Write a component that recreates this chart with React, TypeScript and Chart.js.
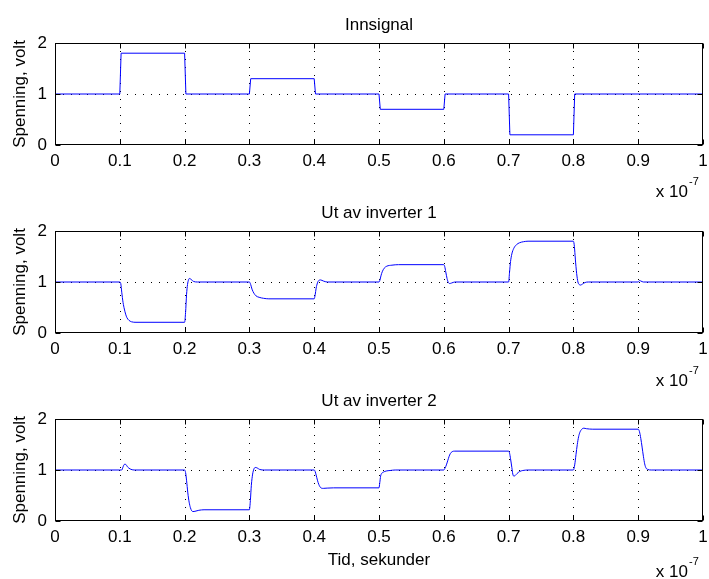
import React, { useEffect, useRef } from "react";
import { Chart, registerables } from "chart.js";

Chart.register(...registerables);

// ---------- data ----------
const xTicks = [0, 0.1, 0.2, 0.3, 0.4, 0.5, 0.6, 0.7, 0.8, 0.9, 1];
const xTickLabels = ["0", "0.1", "0.2", "0.3", "0.4", "0.5", "0.6", "0.7", "0.8", "0.9", "1"];
const yTicks = [0, 1, 2];
const yTickLabels = ["0", "1", "2"];
const titles = ["Innsignal", "Ut av inverter 1", "Ut av inverter 2"];
const yLabel = "Spenning, volt";
const xLabel = "Tid, sekunder";
const xScaleText = "x 10";
const xScaleExp = "-7";

// time in units of 1e-7 s
const tIn = [0, 0.1, 0.102, 0.2, 0.202, 0.3, 0.302, 0.4, 0.402, 0.5, 0.502, 0.6, 0.602, 0.7, 0.702, 0.8, 0.802, 1.0];
const vIn = [1, 1, 1.8, 1.8, 1, 1, 1.3, 1.3, 1, 1, 0.7, 0.7, 1, 1, 0.2, 0.2, 1, 1];

const tInv1 = [
  0, 0.1, 0.1015, 0.103, 0.105, 0.107, 0.109, 0.111, 0.114, 0.118, 0.125,
  0.2, 0.2015, 0.203, 0.2045, 0.206, 0.2075, 0.21, 0.214, 0.22,
  0.3, 0.302, 0.304, 0.307, 0.31, 0.315, 0.322, 0.33,
  0.4, 0.4015, 0.403, 0.405, 0.407, 0.41, 0.414, 0.42,
  0.5, 0.5015, 0.503, 0.505, 0.508, 0.512, 0.52, 0.53,
  0.6, 0.6015, 0.603, 0.605, 0.607, 0.609, 0.612, 0.617,
  0.7, 0.7015, 0.703, 0.705, 0.708, 0.712, 0.717, 0.723, 0.73,
  0.8, 0.8015, 0.803, 0.805, 0.807, 0.809, 0.811, 0.814, 0.818, 0.823,
  0.9, 0.902, 0.904, 0.908, 1.0,
];
const vInv1 = [
  1.0, 1.0, 0.97, 0.8, 0.6, 0.47, 0.37, 0.3, 0.25, 0.22, 0.21,
  0.21, 0.4, 0.75, 0.95, 1.04, 1.07, 1.05, 1.01, 1.0,
  1.0, 0.95, 0.86, 0.78, 0.73, 0.7, 0.68, 0.67,
  0.67, 0.75, 0.88, 0.98, 1.03, 1.04, 1.02, 1.0,
  1.0, 1.04, 1.12, 1.2, 1.27, 1.31, 1.33, 1.34,
  1.34, 1.3, 1.2, 1.07, 0.99, 0.97, 0.98, 1.0,
  1.0, 1.2, 1.4, 1.55, 1.66, 1.73, 1.77, 1.79, 1.8,
  1.8, 1.7, 1.45, 1.17, 1.0, 0.95, 0.94, 0.96, 0.99, 1.0,
  1.0, 1.03, 1.02, 1.0, 1.0,
];

const tInv2 = [
  0, 0.1, 0.103, 0.105, 0.107, 0.109, 0.112, 0.116, 0.122,
  0.2, 0.2015, 0.203, 0.205, 0.207, 0.209, 0.211, 0.213, 0.216, 0.222, 0.23,
  0.3, 0.3015, 0.303, 0.305, 0.307, 0.309, 0.312, 0.316, 0.323,
  0.4, 0.4015, 0.403, 0.405, 0.407, 0.409, 0.411, 0.414, 0.42, 0.43,
  0.5, 0.5012, 0.5025, 0.504, 0.507, 0.511, 0.517, 0.525,
  0.6, 0.602, 0.604, 0.606, 0.608, 0.61, 0.613, 0.617,
  0.7, 0.7015, 0.703, 0.705, 0.7065, 0.708, 0.71, 0.713, 0.717, 0.722, 0.73,
  0.8, 0.802, 0.804, 0.806, 0.808, 0.81, 0.813, 0.816, 0.82, 0.83,
  0.9, 0.902, 0.904, 0.906, 0.908, 0.91, 0.912, 0.915, 0.92, 1.0,
];
const vInv2 = [
  1.0, 1.0, 1.0, 1.06, 1.11, 1.11, 1.06, 1.02, 1.0,
  1.0, 0.95, 0.8, 0.55, 0.37, 0.26, 0.2, 0.185, 0.19, 0.21, 0.22,
  0.22, 0.4, 0.7, 0.92, 1.02, 1.05, 1.04, 1.01, 1.0,
  1.0, 0.97, 0.9, 0.8, 0.72, 0.67, 0.645, 0.64, 0.645, 0.65,
  0.65, 0.75, 0.88, 0.93, 0.96, 0.98, 0.99, 1.0,
  1.0, 1.04, 1.1, 1.18, 1.26, 1.32, 1.36, 1.37,
  1.37, 1.33, 1.22, 1.05, 0.92, 0.88, 0.89, 0.93, 0.97, 0.99, 1.0,
  1.0, 1.1, 1.3, 1.5, 1.65, 1.74, 1.8, 1.82, 1.81, 1.8,
  1.8, 1.75, 1.62, 1.45, 1.27, 1.12, 1.04, 1.01, 1.0, 1.0,
];

// ---------- layout constants ----------
const FONT = "'Liberation Sans', Arial, Helvetica, sans-serif";
const FS = 17;
const PLOT_TOP = 43;
const PLOT_BOTTOM = 145;
const Y_AXIS_W = 55;

type PanelProps = {
  title: string;
  t: number[];
  v: number[];
  smooth: boolean;
  top: number;
  height: number;
  showXLabel: boolean;
  expOffset: number;
};

function Panel({ title, t, v, smooth, top, height, showXLabel, expOffset }: PanelProps) {
  const ref = useRef<HTMLCanvasElement>(null);

  useEffect(() => {
    const canvas = ref.current!;

    const gridPlugin = {
      id: "matlabGrid",
      beforeDatasetsDraw(chart: any) {
        const { ctx, chartArea } = chart;
        const xs = chart.scales.x;
        const ys = chart.scales.y;
        ctx.save();
        ctx.strokeStyle = "#000";
        ctx.lineWidth = 1;
        ctx.setLineDash([1, 7]);
        for (const xv of xTicks) {
          if (xv === 0 || xv === 1) continue;
          const px = Math.round(xs.getPixelForValue(xv)) + 0.5;
          ctx.beginPath();
          ctx.moveTo(px, chartArea.top);
          ctx.lineTo(px, chartArea.bottom);
          ctx.stroke();
        }
        for (const yv of yTicks) {
          if (yv === 0 || yv === 2) continue;
          const py = Math.round(ys.getPixelForValue(yv)) + 0.5;
          ctx.beginPath();
          ctx.moveTo(chartArea.left, py);
          ctx.lineTo(chartArea.right, py);
          ctx.stroke();
        }
        ctx.restore();
      },
      afterDraw(chart: any) {
        const { ctx, chartArea } = chart;
        const xs = chart.scales.x;
        const ys = chart.scales.y;
        const L = Math.round(chartArea.left) + 0.5;
        const R = Math.round(chartArea.right) - 0.5;
        const T = Math.round(chartArea.top) + 0.5;
        const B = Math.round(chartArea.bottom) - 0.5;
        ctx.save();
        ctx.strokeStyle = "#000";
        ctx.lineWidth = 1;
        ctx.setLineDash([]);
        ctx.strokeRect(L, T, R - L, B - T);
        const tl = 5;
        ctx.beginPath();
        for (const xv of xTicks) {
          const px = Math.round(xs.getPixelForValue(xv)) + 0.5;
          ctx.moveTo(px, B);
          ctx.lineTo(px, B - tl);
          ctx.moveTo(px, T);
          ctx.lineTo(px, T + tl);
        }
        for (const yv of yTicks) {
          const py = Math.round(ys.getPixelForValue(yv)) + 0.5;
          ctx.moveTo(L, py);
          ctx.lineTo(L + tl, py);
          ctx.moveTo(R, py);
          ctx.lineTo(R - tl, py);
        }
        ctx.stroke();

        // texts
        ctx.fillStyle = "#000";
        ctx.font = `${FS}px ${FONT}`;
        ctx.textBaseline = "alphabetic";
        ctx.textAlign = "center";
        const cx = (chartArea.left + chartArea.right) / 2;
        ctx.fillText(title, cx, chartArea.top - 13.5);

        ctx.save();
        ctx.translate(25, (chartArea.top + chartArea.bottom) / 2);
        ctx.rotate(-Math.PI / 2);
        ctx.fillText(yLabel, 0, 0);
        ctx.restore();

        if (showXLabel) {
          ctx.fillText(xLabel, cx, chartArea.bottom + 44);
        }

        ctx.textAlign = "right";
        ctx.fillText(xScaleText, chartArea.right - 15, chartArea.bottom + expOffset);
        ctx.font = `11px ${FONT}`;
        ctx.textAlign = "left";
        ctx.fillText(xScaleExp, chartArea.right - 14, chartArea.bottom + expOffset - 12);
        ctx.restore();
      },
    };

    const chart = new Chart(canvas, {
      type: "line",
      data: {
        datasets: [
          {
            data: t.map((x, i) => ({ x, y: v[i] })),
            borderColor: "#0000ff",
            borderWidth: 1,
            pointRadius: 0,
            fill: false,
            tension: 0,
            cubicInterpolationMode: smooth ? "monotone" : "default",
          },
        ],
      },
      options: {
        responsive: false,
        animation: false,
        events: [],
        layout: { padding: { top: PLOT_TOP, left: 0, right: 6, bottom: 0 } },
        plugins: {
          legend: { display: false },
          tooltip: { enabled: false },
          title: { display: false },
        },
        scales: {
          x: {
            type: "linear",
            min: 0,
            max: 1,
            afterBuildTicks: (s: any) => {
              s.ticks = xTicks.map((value) => ({ value }));
            },
            afterFit: (s: any) => {
              s.height = height - PLOT_BOTTOM;
              s.paddingLeft = 0;
              s.paddingRight = 0;
            },
            grid: { display: false, drawTicks: false },
            border: { display: false },
            ticks: {
              autoSkip: false,
              maxRotation: 0,
              minRotation: 0,
              padding: 6,
              color: "#000",
              font: { size: FS, family: FONT },
              callback: (_val: any, idx: number) => xTickLabels[idx],
            },
          },
          y: {
            type: "linear",
            min: 0,
            max: 2,
            afterBuildTicks: (s: any) => {
              s.ticks = yTicks.map((value) => ({ value }));
            },
            afterFit: (s: any) => {
              s.width = Y_AXIS_W;
              s.paddingTop = 0;
              s.paddingBottom = 0;
            },
            grid: { display: false, drawTicks: false },
            border: { display: false },
            ticks: {
              padding: 8,
              color: "#000",
              font: { size: FS, family: FONT },
              callback: (_val: any, idx: number) => yTickLabels[idx],
            },
          },
        },
      } as any,
      plugins: [gridPlugin],
    });

    return () => chart.destroy();
  }, []);

  return (
    <canvas
      ref={ref}
      width={709}
      height={height}
      style={{ position: "absolute", left: 0, top, width: 709, height }}
    />
  );
}

export default function App() {
  return (
    <div
      style={{
        position: "absolute",
        left: 0,
        top: 0,
        width: 709,
        height: 579,
        background: "#fff",
        overflow: "hidden",
      }}
    >
      <Panel title={titles[0]} t={tIn} v={vIn} smooth={false} top={0} height={200} showXLabel={false} expOffset={52} />
      <Panel title={titles[1]} t={tInv1} v={vInv1} smooth={true} top={188} height={200} showXLabel={false} expOffset={53} />
      <Panel title={titles[2]} t={tInv2} v={vInv2} smooth={true} top={376} height={203} showXLabel={true} expOffset={56} />
    </div>
  );
}
